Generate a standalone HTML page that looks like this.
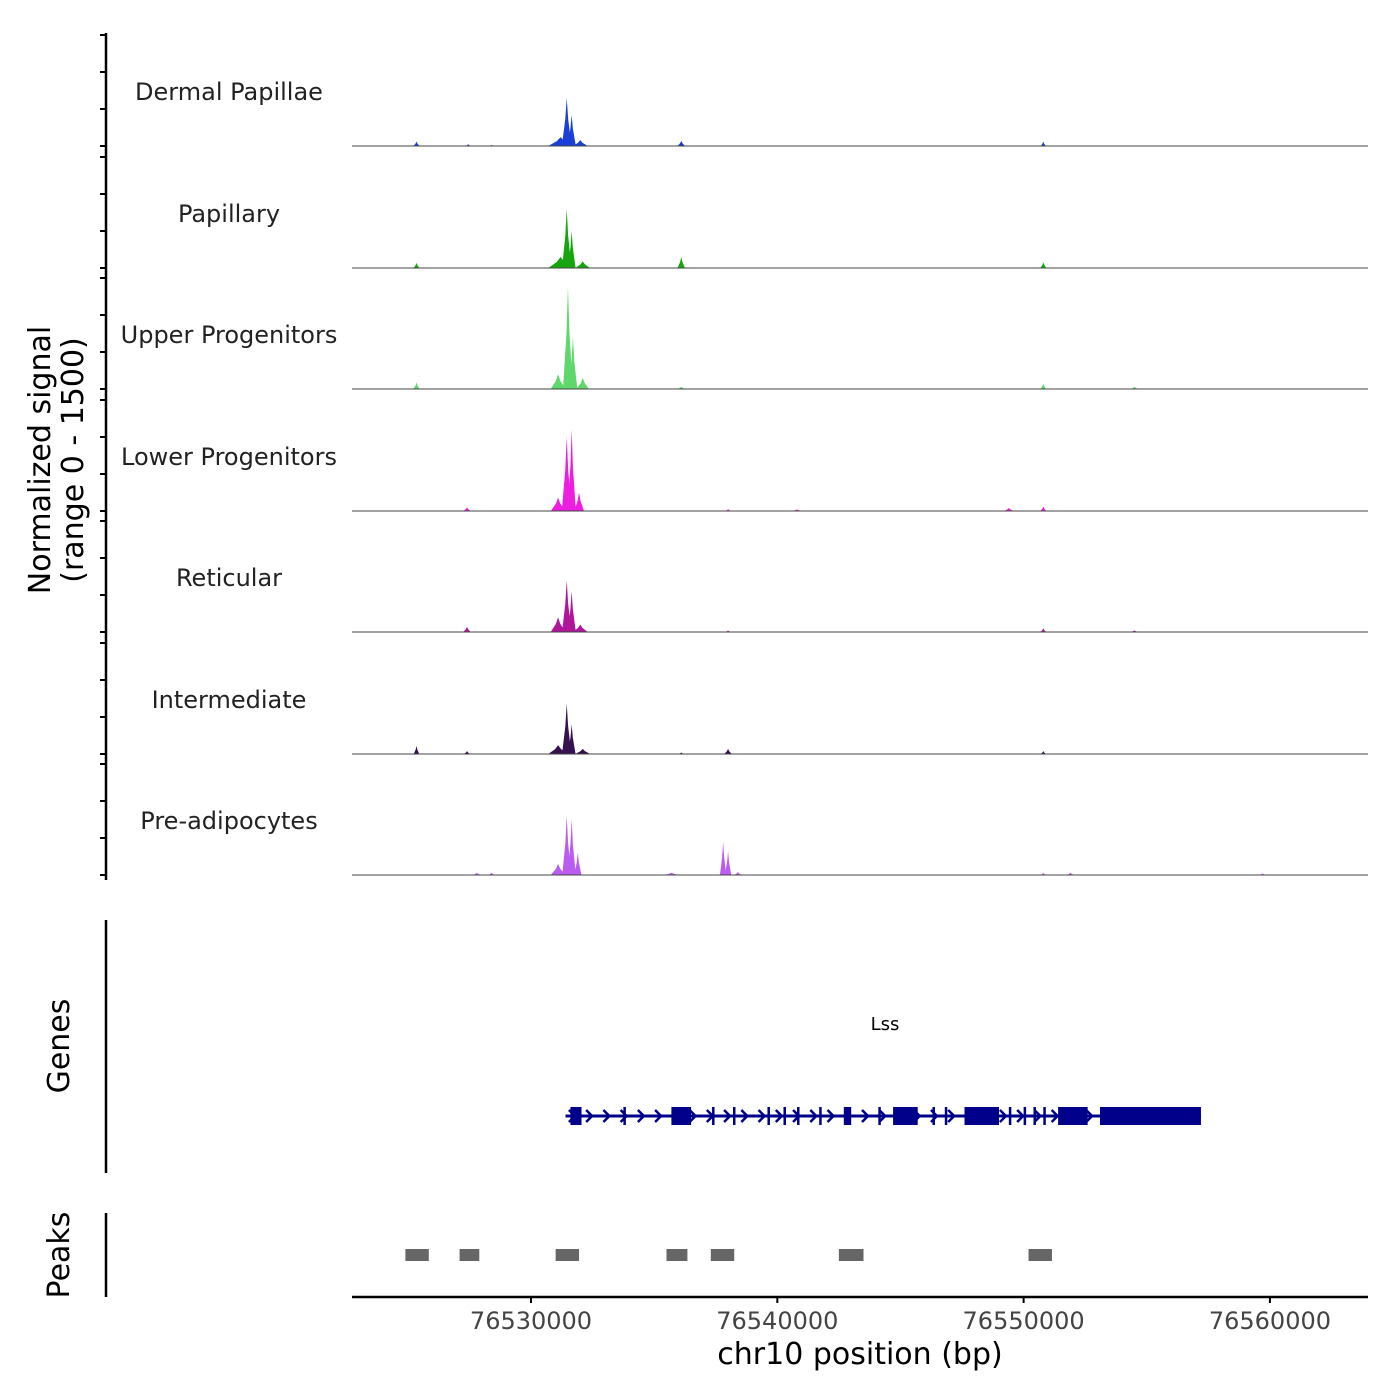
<!DOCTYPE html>
<html><head><meta charset="utf-8">
<style>
body{margin:0;background:#fff;}
svg{display:block;font-family:"DejaVu Sans","Liberation Sans",sans-serif;}
</style></head>
<body>
<svg id="chart" width="1400" height="1400" viewBox="0 0 1400 1400"></svg>
<script>
const trackNames = ["Dermal Papillae","Papillary","Upper Progenitors","Lower Progenitors","Reticular","Intermediate","Pre-adipocytes"];
const trackColors = ["#1a3fd6","#14a60c","#5ed86a","#ee1ee0","#b0169a","#36104f","#bb5cf0"];
// peaks per track: [bp position, signal value, half-width bp]
const peaksDP = [[76525350,60,120],[76527450,25,100],[76531200,120,500],[76531450,650,200],[76531650,420,170],[76532000,80,300],[76536100,70,150],[76550800,60,100],[76528400,15,100]];
const peaksPap = [[76525350,70,120],[76531200,150,500],[76531450,800,190],[76531650,500,160],[76532100,90,300],[76536100,150,150],[76550800,80,120]];
const peaksUP = [[76525350,90,120],[76531100,200,300],[76531500,1380,200],[76531700,700,180],[76532100,150,250],[76536100,30,150],[76550800,70,120],[76554500,30,150]];
const peaksLP = [[76527400,50,150],[76531100,180,300],[76531450,1000,200],[76531650,1100,170],[76531950,250,200],[76538000,25,120],[76549400,40,200],[76550800,60,120],[76540800,20,200]];
const peaksRet = [[76527400,70,150],[76531100,200,300],[76531450,700,190],[76531650,550,170],[76532000,100,300],[76538000,20,100],[76550800,50,120],[76554500,20,150]];
const peaksInt = [[76525350,110,110],[76527400,40,120],[76531100,120,400],[76531450,680,190],[76531650,400,160],[76532100,70,300],[76536100,20,100],[76538000,70,150],[76550800,40,100]];
const peaksPre = [[76527800,30,150],[76528400,30,120],[76531100,150,300],[76531450,800,180],[76531650,750,170],[76531900,300,150],[76535700,30,300],[76537800,450,130],[76538000,320,130],[76538400,40,150],[76550800,30,100],[76551900,30,150],[76559700,20,150]];
const trackPeaks = [peaksDP,peaksPap,peaksUP,peaksLP,peaksRet,peaksInt,peaksPre];
const yTicks = [0,500,1000,1500];
const xTicks = [76530000,76540000,76550000,76560000];
const xTickLabels = ["76530000","76540000","76550000","76560000"];
const peakRegions = [[76524900,76525850],[76527100,76527900],[76531000,76531950],[76535500,76536350],[76537300,76538250],[76542500,76543500],[76550200,76551150]];
const exons = [[76531600,76532050],[76533750,76533850],[76535700,76536500],[76537350,76537450],[76538200,76538300],[76539600,76539700],[76540250,76540350],[76540800,76540900],[76541700,76541800],[76542700,76543000],[76544100,76544150],[76544700,76545700],[76546300,76546400],[76546800,76546900],[76547600,76549000],[76549400,76549450],[76550000,76550050],[76550400,76550450],[76550800,76550900],[76551400,76552600],[76553100,76557200]];
const geneStart = 76531400, geneEnd = 76557200;

const NS="http://www.w3.org/2000/svg";
const svg=document.getElementById('chart');
function mk(tag,attrs,parent){const e=document.createElementNS(NS,tag);for(const k in attrs)e.setAttribute(k,attrs[k]);(parent||svg).appendChild(e);return e;}
const X0=76522732, X1=76563982, PX0=352, PX1=1368;
const xs=bp=>PX0+(bp-X0)/(X1-X0)*(PX1-PX0);
const panelBottoms=[146,268,389,511,632,754,875];
const ys=(v,b)=>b-v*(111/1500);

let ax=mk('line',{x1:106,y1:33,x2:106,y2:880,stroke:'#000','stroke-width':2.5});

trackNames.forEach((name,i)=>{
  const b=panelBottoms[i];
  yTicks.forEach(t=>{const tk=mk('line',{x1:100,x2:106,y1:ys(t,b),y2:ys(t,b),stroke:'#000','stroke-width':2});
    });
  const lab=mk('text',{x:229,y:b-46,'text-anchor':'middle','font-size':24,fill:'#222'});lab.textContent=name;
  
  const g=mk('g',{});
  
  trackPeaks[i].forEach(p=>{
    const x=xs(p[0]),w=p[2]*(PX1-PX0)/(X1-X0);
    const pk=mk('path',{d:`M${x-w},${b} L${x-w*0.3},${ys(p[1]*0.55,b)} L${x},${ys(p[1],b)} L${x+w*0.3},${ys(p[1]*0.55,b)} L${x+w},${b} Z`,fill:trackColors[i]},g);
    
  });
  const bl=mk('line',{x1:PX0,x2:PX1,y1:b,y2:b,stroke:'#444','stroke-width':1});
  
});
let yt=mk('text',{transform:'translate(52,460) rotate(-90)','text-anchor':'middle','font-size':30,fill:'#000'});

let t1=mk('tspan',{x:0,dy:-2},yt);t1.textContent='Normalized signal';
let t2=mk('tspan',{x:0,dy:33},yt);t2.textContent='(range 0 - 1500)';

let ga=mk('line',{x1:106,y1:920,x2:106,y2:1173,stroke:'#000','stroke-width':2.5});

let gt=mk('text',{transform:'translate(69,1046) rotate(-90)','text-anchor':'middle','font-size':30});gt.textContent='Genes';

let gl=mk('text',{x:885,y:1030,'text-anchor':'middle','font-size':18});gl.textContent='Lss';

const gg=mk('g',{});
mk('line',{x1:xs(geneStart),x2:xs(geneEnd),y1:1116,y2:1116,stroke:'#00008b','stroke-width':3},gg);
for(let bp=geneStart+300;bp<geneEnd-4000;bp+=700){const x=xs(bp);
  mk('path',{d:`M${x-4},${1110} L${x+2},1116 L${x-4},1122`,stroke:'#00008b','stroke-width':2.5,fill:'none'},gg);}
exons.forEach(e=>{const r=mk('rect',{x:xs(e[0]),y:1107,width:Math.max(2.5,xs(e[1])-xs(e[0])),height:18,fill:'#00008b'},gg);
  });

let pa=mk('line',{x1:106,y1:1213,x2:106,y2:1297,stroke:'#000','stroke-width':2.5});

let pt=mk('text',{transform:'translate(69,1255) rotate(-90)','text-anchor':'middle','font-size':30});pt.textContent='Peaks';

peakRegions.forEach(p=>{const r=mk('rect',{x:xs(p[0]),y:1249,width:xs(p[1])-xs(p[0]),height:12,fill:'#666'});
  });

let xa=mk('line',{x1:PX0,x2:PX1,y1:1297,y2:1297,stroke:'#000','stroke-width':2.5});

xTicks.forEach((t,i)=>{
  const tk=mk('line',{x1:xs(t),x2:xs(t),y1:1297,y2:1303,stroke:'#000','stroke-width':2});
  
  const l=mk('text',{x:xs(t),y:1329,'text-anchor':'middle','font-size':24,fill:'#444'});l.textContent=xTickLabels[i];
  
});
let xt=mk('text',{x:860,y:1364,'text-anchor':'middle','font-size':30});xt.textContent='chr10 position (bp)';

</script>
</body></html>
